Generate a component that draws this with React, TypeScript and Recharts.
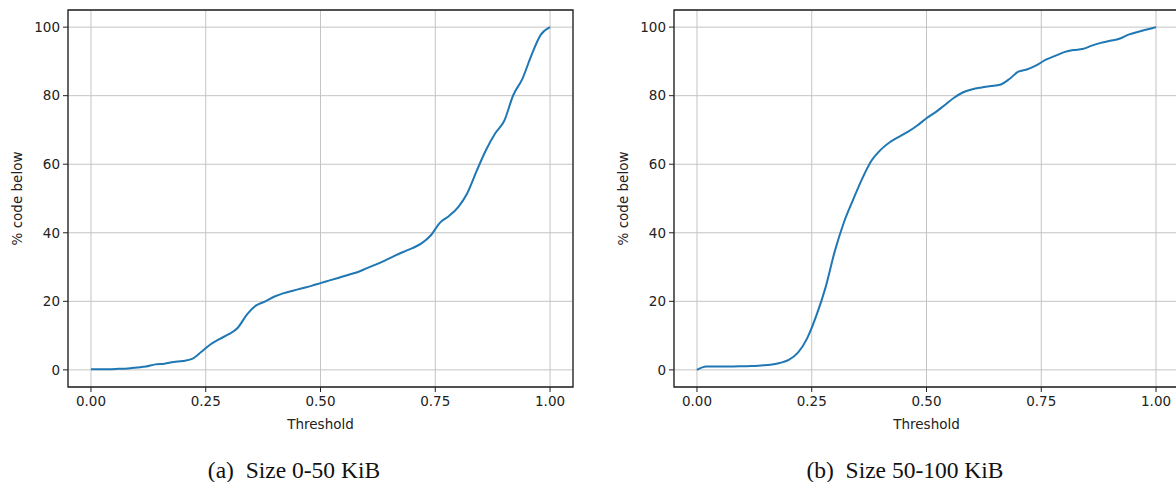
import {
    LineChart,
    Line,
    XAxis,
    YAxis,
    CartesianGrid,
    ReferenceArea,
} from "recharts";

// threshold values (x axis), same for both panels
const thresholds = [
    0, 0.02, 0.04, 0.06, 0.08, 0.1, 0.12, 0.14, 0.16, 0.18,
    0.2, 0.22, 0.24, 0.26, 0.28, 0.3, 0.32, 0.34, 0.36, 0.38,
    0.4, 0.42, 0.44, 0.46, 0.48, 0.5, 0.52, 0.54, 0.56, 0.58,
    0.6, 0.62, 0.64, 0.66, 0.68, 0.7, 0.72, 0.74, 0.76, 0.78,
    0.8, 0.82, 0.84, 0.86, 0.88, 0.9, 0.92, 0.94, 0.96, 0.98, 1,
];

// (a) Size 0-50 KiB
const smallFiles = [
    0.2, 0.2, 0.2, 0.3, 0.4, 0.7, 1.0, 1.6, 1.8, 2.3,
    2.6, 3.2, 5.2, 7.4, 9.0, 10.4, 12.3, 16.2, 18.8, 20.0,
    21.4, 22.4, 23.1, 23.8, 24.5, 25.3, 26.1, 26.9, 27.7, 28.5,
    29.6, 30.7, 31.9, 33.2, 34.4, 35.5, 36.9, 39.2, 42.9, 44.9,
    47.5, 51.6, 58.0, 64.0, 68.9, 72.6, 80.2, 85.0, 92.0, 97.8, 100,
];

// (b) Size 50-100 KiB
const largeFiles = [
    0, 1.0, 1.0, 1.0, 1.0, 1.05, 1.1, 1.3, 1.5, 2.0,
    2.9, 5.0, 9.2, 15.8, 24.0, 34.5, 43.0, 49.6, 55.8, 61.0,
    64.2, 66.4, 68.0, 69.5, 71.3, 73.4, 75.2, 77.3, 79.4, 81.0,
    81.9, 82.4, 82.8, 83.2, 84.8, 87.0, 87.7, 88.9, 90.5, 91.6,
    92.7, 93.3, 93.6, 94.6, 95.4, 96.0, 96.6, 97.8, 98.6, 99.3, 100,
];

const xTicks = [0, 0.25, 0.5, 0.75, 1];
const yTicks = [0, 20, 40, 60, 80, 100];

const captions = ["(a)  Size 0-50 KiB", "(b)  Size 50-100 KiB"];

const tickStyle = { fill: "#222", fontSize: 13.5, fontFamily: "DejaVu Sans" };

function Panel({ values }: { values: number[] }) {
    const data = thresholds.map((t, i) => ({ t, v: values[i] }));

    return (
        <LineChart width={600} height={440} data={data} margin={{ top: 10, right: 27, bottom: 0, left: 0 }}>
            <CartesianGrid stroke="#c4c4c4" strokeWidth={1} />
            <XAxis
                dataKey="t"
                type="number"
                domain={[-0.05, 1.05]}
                ticks={xTicks}
                tickFormatter={(v: number) => v.toFixed(2)}
                axisLine={false}
                tickLine={{ stroke: "#222" }}
                tickSize={5}
                tickMargin={4}
                height={53}
                tick={tickStyle}
                label={{ value: "Threshold", position: "insideBottom", offset: 11, style: { ...tickStyle, textAnchor: "middle" } }}
            />
            <YAxis
                type="number"
                domain={[-5, 105]}
                ticks={yTicks}
                axisLine={false}
                tickLine={{ stroke: "#222" }}
                tickSize={5}
                tickMargin={3}
                width={68}
                tick={tickStyle}
                label={{ value: "% code below", angle: -90, position: "insideLeft", offset: 17, style: { ...tickStyle, textAnchor: "middle" } }}
            />
            <Line
                type="monotone"
                dataKey="v"
                stroke="#1f77b4"
                strokeWidth={2}
                dot={false}
                isAnimationActive={false}
            />
            {/* black frame round the plot area */}
            <ReferenceArea x1={-0.05} x2={1.05} y1={-5} y2={105} fill="none" stroke="#222" strokeWidth={1.3} />
        </LineChart>
    );
}

export default function App() {
    const captionStyle = {
        position: "absolute" as const,
        top: 459,
        width: 400,
        textAlign: "center" as const,
        fontFamily: "'Liberation Serif', 'Times New Roman', serif",
        fontSize: 23.5,
        lineHeight: "23px",
        whiteSpace: "pre" as const,
        color: "#111",
    };

    return (
        <div style={{ position: "fixed", left: 0, top: 0, width: 1176, height: 482, overflow: "hidden", background: "#fff" }}>
            <div style={{ position: "absolute", left: 0, top: 0 }}>
                <Panel values={smallFiles} />
            </div>
            <div style={{ position: "absolute", left: 606, top: 0 }}>
                <Panel values={largeFiles} />
            </div>
            <div style={{ ...captionStyle, left: 294 - 200 }}>{captions[0]}</div>
            <div style={{ ...captionStyle, left: 905 - 200 }}>{captions[1]}</div>
        </div>
    );
}
